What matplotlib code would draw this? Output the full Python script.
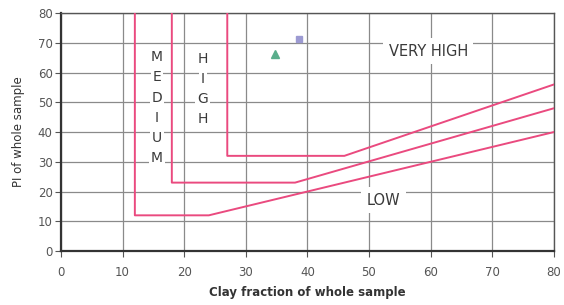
import matplotlib
matplotlib.use("Agg")
import matplotlib.pyplot as plt

# boundary lines (clay fraction, PI)
low_x = [12, 12, 24, 80]
low_y = [80, 12, 12, 40]
med_x = [18, 18, 38, 80]
med_y = [80, 23, 23, 48]
high_x = [27, 27, 46, 80]
high_y = [80, 32, 32, 56]

# sample points
tri_x, tri_y = [34.7], [66.2]
sq_x, sq_y = [38.6], [71.3]

ticks = [0, 10, 20, 30, 40, 50, 60, 70, 80]

plt.rcParams['font.family'] = ['DejaVu Sans']
fig = plt.figure(figsize=(5.64, 3.05), dpi=100)
ax = fig.add_axes([0.108, 0.177, 0.874, 0.780])

ax.set_xlim(0, 80)
ax.set_ylim(0, 80)
ax.set_xticks(ticks)
ax.set_yticks(ticks)
ax.grid(True, color='#8a8a8a', linewidth=0.9)
ax.set_axisbelow(True)

pink = '#ea4a7f'
ax.plot(low_x, low_y, color=pink, lw=1.4, zorder=3)
ax.plot(med_x, med_y, color=pink, lw=1.4, zorder=3)
ax.plot(high_x, high_y, color=pink, lw=1.4, zorder=3)

ax.plot(tri_x, tri_y, marker='^', ls='none', color='#5aae8c', ms=5.5, zorder=4)
ax.plot(sq_x, sq_y, marker='s', ls='none', color='#9c9ad2', ms=5, zorder=4)

txt = '#3a3a3a'
box = dict(facecolor='white', edgecolor='none', pad=1.5)
for i, ch in enumerate("MEDIUM"):
    ax.text(15.6, 65.2 - i * 6.8, ch, ha='center', va='center', fontsize=10,
            color=txt, bbox=box, zorder=2)
for i, ch in enumerate("HIGH"):
    ax.text(23.0, 64.5 - i * 6.7, ch, ha='center', va='center', fontsize=10,
            color=txt, bbox=box, zorder=2)
ax.text(59.6, 67.2, "VERY HIGH", ha='center', va='center', fontsize=10.5,
        color=txt, bbox=dict(facecolor='white', edgecolor='none', pad=4), zorder=2)
ax.text(52.3, 17.1, "LOW", ha='center', va='center', fontsize=10.5,
        color=txt, bbox=dict(facecolor='white', edgecolor='none', pad=4), zorder=2)

for side in ['left', 'bottom']:
    ax.spines[side].set_linewidth(1.6)
    ax.spines[side].set_color('#333333')
for side in ['right', 'top']:
    ax.spines[side].set_linewidth(1.0)
    ax.spines[side].set_color('#555555')

ax.tick_params(labelsize=8.5, labelcolor='#555555', color='#555555', length=4)
ax.tick_params(axis='x', pad=7)
ax.tick_params(axis='y', pad=2)
ax.set_xlabel("Clay fraction of whole sample", fontsize=8.5, fontweight='bold',
              color='#333333', labelpad=5)
ax.set_ylabel("PI of whole sample", fontsize=8.5, color='#333333', labelpad=9)

fig.savefig("out.png", dpi=100)
